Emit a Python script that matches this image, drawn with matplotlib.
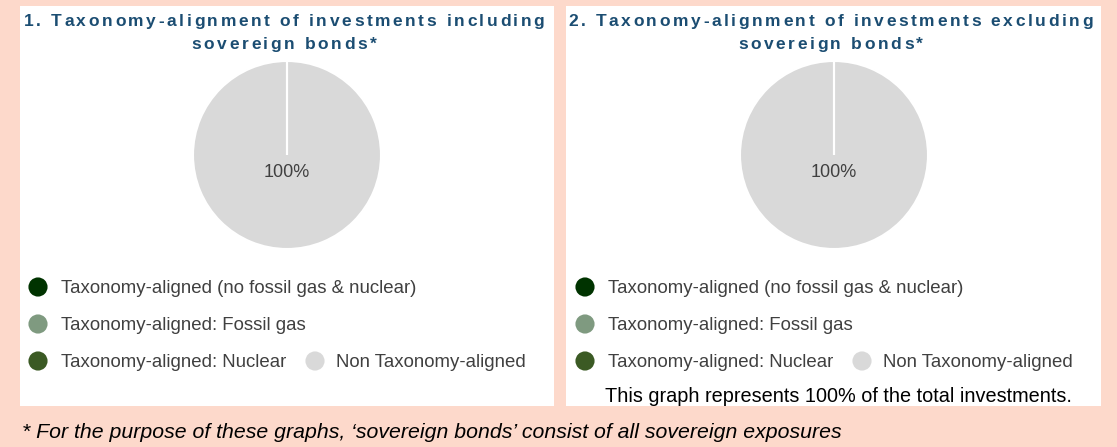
import matplotlib.pyplot as plt
from matplotlib.font_manager import FontProperties, findfont, get_font

# shares of investments (%)
categories = ["Taxonomy-aligned (no fossil gas & nuclear)",
              "Taxonomy-aligned: Fossil gas",
              "Taxonomy-aligned: Nuclear",
              "Non Taxonomy-aligned"]
incl_sovereign = [0, 0, 0, 100]
excl_sovereign = [0, 0, 0, 100]
colors = ["#003300", "#7f9a80", "#3b5a24", "#d9d9d9"]

titles = [["1. Taxonomy-alignment of investments including", "sovereign bonds*"],
          ["2. Taxonomy-alignment of investments excluding", "sovereign bonds*"]]
note_right = "This graph represents 100% of the total investments."
footnote = "* For the purpose of these graphs, \u2018sovereign bonds\u2019 consist of all sovereign exposures"

plt.rcParams["font.family"] = ["Liberation Sans", "DejaVu Sans"]

W, H = 1117, 447
DPI = 100
fig = plt.figure(figsize=(W / DPI, H / DPI), dpi=DPI, facecolor="#fdd9cb")

# pixel canvas over the whole figure
can = fig.add_axes([0, 0, 1, 1])
can.set_xlim(0, W)
can.set_ylim(H, 0)
can.axis("off")


def spaced_text(ax, xc, y, s, spacing, size, **kw):
    # draw a centred line with extra tracking between the letters
    prop = FontProperties(family="Liberation Sans", weight=kw.get("fontweight", "normal"))
    font = get_font(findfont(prop))
    font.set_size(size, DPI)
    adv = [font.load_char(ord(ch)).linearHoriAdvance / 65536 for ch in s]
    total = sum(adv) + spacing * (len(s) - 1)
    x = xc - total / 2
    for ch, a in zip(s, adv):
        ax.text(x, y, ch, ha="left", va="baseline", fontsize=size, **kw)
        x += a + spacing


panels = [(20, 554), (566, 1101)]
pie_cx = [287, 834]
pie_cy, pie_r = 155, 94
# legend slots: (x of dot, y)
slots = [(38, 287), (38, 324), (38, 361), (315, 361)]
text_gap = [23, 23, 23, 21]

for i, (vals, title) in enumerate(zip([incl_sovereign, excl_sovereign], titles)):
    x0, x1 = panels[i]
    can.add_patch(plt.Rectangle((x0, 6), x1 - x0, 400, facecolor="white",
                                edgecolor="none", zorder=0))
    for line, base in zip(title, [26, 49]):
        spaced_text(can, (x0 + x1) / 2 - 3, base, line, 2.6, 12.5,
                    fontweight="bold", color="#1b4d72")

    cx = pie_cx[i]
    ax = fig.add_axes([(cx - pie_r) / W, 1 - (pie_cy + pie_r) / H,
                       2 * pie_r / W, 2 * pie_r / H])
    wedges, _ = ax.pie(vals, colors=colors, startangle=90, counterclock=False,
                       radius=1, wedgeprops=dict(edgecolor="white", linewidth=1.5))
    for w, v in zip(wedges, vals):
        if v == 0:
            w.set_zorder(3)
    ax.set_xlim(-1, 1)
    ax.set_ylim(-1, 1)
    ax.axis("off")
    for v in vals:
        if v > 0:
            ax.text(0, -0.19, f"{v}%", ha="center", va="center",
                    fontsize=13, color="#404040")

    off = 0 if i == 0 else 547
    for (sx, sy), g, lab, c in zip(slots, text_gap, categories, colors):
        can.scatter(sx + off, sy, s=190, color=c, edgecolors="none", zorder=2)
        can.text(sx + off + g, sy + 1.5, lab, ha="left", va="center",
                 fontsize=13.4, color="#404040")

can.text(605, 397, note_right, ha="left", va="center", fontsize=14.3, color="black")
can.text(22, 432, footnote, ha="left", va="center", fontsize=15.3,
         style="italic", color="black")

fig.savefig("out.png", dpi=DPI, facecolor=fig.get_facecolor())
